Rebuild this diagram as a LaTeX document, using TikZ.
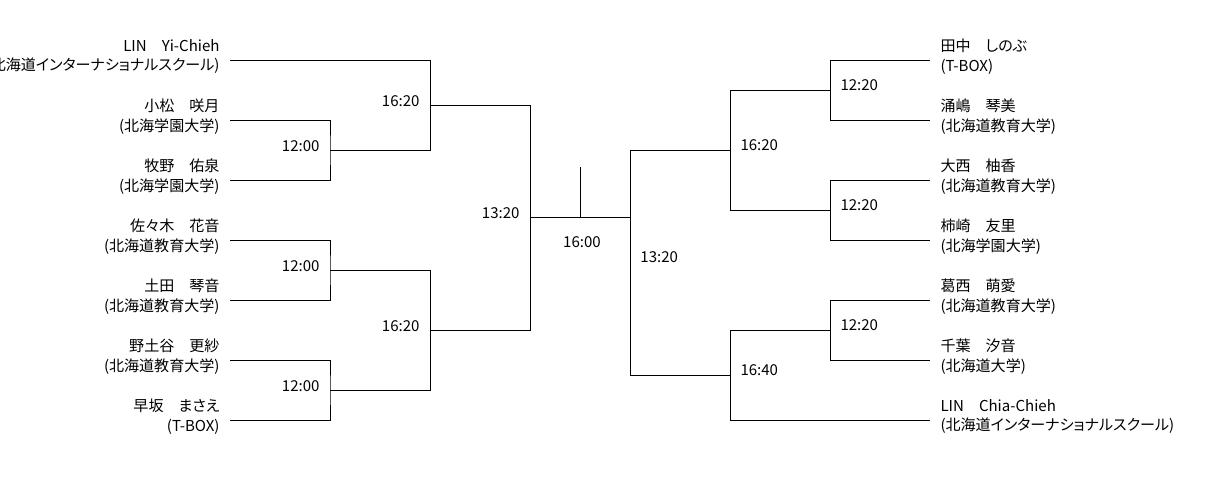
\documentclass[tikz,border=0pt]{standalone}
\usepackage{fontspec}
\setmainfont[RawFeature=+palt]{Noto Sans CJK JP}
\usetikzlibrary{positioning}

\begin{document}
\begin{tikzpicture}[x=0.025cm,y=-0.025cm,line width=0.7pt,
    every node/.style={font=\fontsize{10.7}{13.9}\selectfont,inner sep=0pt},
    lname/.style={align=right,anchor=east},
    rname/.style={align=left,anchor=west},
    ltime/.style={anchor=east},
    rtime/.style={anchor=west}]
        \useasboundingbox (0,0) rectangle (1210,500);
        % left half
        \coordinate (l1) at (230,60);
        \coordinate (l2) at (230,120);
        \coordinate (l3) at (230,180);
        \coordinate (l4) at (230,240);
        \coordinate (l5) at (230,300);
        \coordinate (l6) at (230,360);
        \coordinate (l7) at (230,420);
        \coordinate (l23) at (330,150);
        \coordinate (l45) at (330,270);
        \coordinate (l67) at (330,390);
        \coordinate (lq1) at (430,105);
        \coordinate (lq2) at (430,330);
        \coordinate (ls) at (530,217.5);
        \node[lname] (pl1) at (220,56.5) {LIN　Yi-Chieh\\(北海道インターナショナルスクール)};
        \node[lname] (pl2) at (220,116.5) {小松　咲月\\(北海学園大学)};
        \node[lname] (pl3) at (220,176.5) {牧野　佑泉\\(北海学園大学)};
        \node[lname] (pl4) at (220,236.5) {佐々木　花音\\(北海道教育大学)};
        \node[lname] (pl5) at (220,296.5) {土田　琴音\\(北海道教育大学)};
        \node[lname] (pl6) at (220,356.5) {野土谷　更紗\\(北海道教育大学)};
        \node[lname] (pl7) at (220,416.5) {早坂　まさえ\\(T-BOX)};
        \draw (l2) -| (l23) |- (l3);
        \draw (l4) -| (l45) |- (l5);
        \draw (l6) -| (l67) |- (l7);
        \draw (l1) -| (lq1);
        \draw (l23) -| (lq1);
        \draw (l45) -| (lq2);
        \draw (l67) -| (lq2);
        \draw (lq1) -| (ls);
        \draw (lq2) -| (ls);
        \node[ltime] (tl23) at (320,146) {12:00};
        \node[ltime] (tl45) at (320,266) {12:00};
        \node[ltime] (tl67) at (320,386) {12:00};
        \node[ltime] (tlq1) at (420,101) {16:20};
        \node[ltime] (tlq2) at (420,326) {16:20};
        \node[ltime] (tls) at (520,213) {13:20};
        % final
        \coordinate (top) at (580,167);
        \coordinate (mid) at (580,217.5);
        \coordinate (rs) at (630,217.5);
        \draw (ls) -- (rs);
        \draw (top) -- (mid);
        \node (tf) at (582,242) {16:00};
        % right half
        \coordinate (r1) at (930,60);
        \coordinate (r2) at (930,120);
        \coordinate (r3) at (930,180);
        \coordinate (r4) at (930,240);
        \coordinate (r5) at (930,300);
        \coordinate (r6) at (930,360);
        \coordinate (r7) at (930,420);
        \coordinate (r12) at (830,90);
        \coordinate (r34) at (830,210);
        \coordinate (r56) at (830,330);
        \coordinate (rq1) at (730,150);
        \coordinate (rq2) at (730,375);
        \node[rname] (pr1) at (940,56.5) {田中　しのぶ\\(T-BOX)};
        \node[rname] (pr2) at (940,116.5) {涌嶋　琴美\\(北海道教育大学)};
        \node[rname] (pr3) at (940,176.5) {大西　柚香\\(北海道教育大学)};
        \node[rname] (pr4) at (940,236.5) {柿崎　友里\\(北海学園大学)};
        \node[rname] (pr5) at (940,296.5) {葛西　萌愛\\(北海道教育大学)};
        \node[rname] (pr6) at (940,356.5) {千葉　汐音\\(北海道大学)};
        \node[rname] (pr7) at (940,416.5) {LIN　Chia-Chieh\\(北海道インターナショナルスクール)};
        \draw (r1) -| (r12) |- (r2);
        \draw (r3) -| (r34) |- (r4);
        \draw (r5) -| (r56) |- (r6);
        \draw (r12) -| (rq1);
        \draw (r34) -| (rq1);
        \draw (r56) -| (rq2);
        \draw (r7) -| (rq2);
        \draw (rq1) -| (rs);
        \draw (rq2) -| (rs);
        \node[rtime] (tr12) at (840,85) {12:20};
        \node[rtime] (tr34) at (840,205) {12:20};
        \node[rtime] (tr56) at (840,325) {12:20};
        \node[rtime] (trq1) at (740,145) {16:20};
        \node[rtime] (trq2) at (740,370) {16:40};
        \node[rtime] (trs) at (640,257) {13:20};
      \end{tikzpicture}
\end{document}
